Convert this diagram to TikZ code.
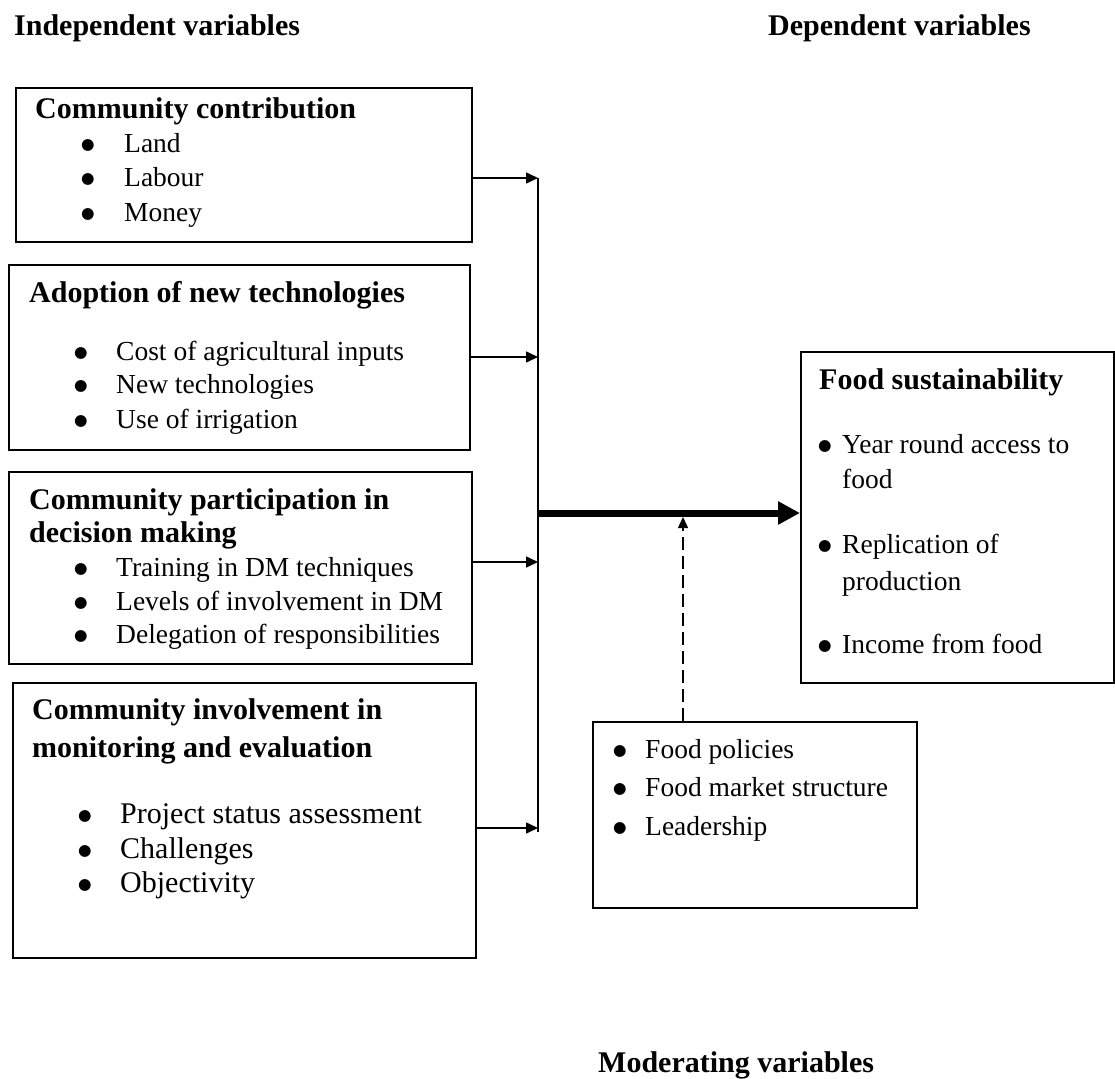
\documentclass[tikz,border=0pt]{standalone}
\usepackage{fontspec}
\setmainfont{Liberation Serif}
\newfontfamily\dotfont{DejaVu Sans}
\usepackage{tikz}
\usetikzlibrary{arrows.meta, positioning}

\newcommand{\itembullet}[1][42pt]{\makebox[#1][l]{\raisebox{3pt}{\dotfont\fontsize{15.5}{15.5}\selectfont ●}}}

\begin{document}
\begin{tikzpicture}[x=1pt, y=-1pt,
    box/.style={draw, line width=1.6pt, inner sep=0pt, anchor=north west},
    title/.style={anchor=base west, inner sep=0pt, font=\fontsize{30}{36}\selectfont\bfseries},
    item/.style={anchor=base west, inner sep=0pt, font=\fontsize{27.5}{33}\selectfont},
    bigitem/.style={anchor=base west, inner sep=0pt, font=\fontsize{30}{36}\selectfont},
    link/.style={line width=1.6pt, -{Triangle[length=12pt, width=11pt]}}]
    \useasboundingbox (0,0) rectangle (1115,1078);

    \node[title] (indep) at (14,36) {Independent variables};
    \node[title] (dep) at (768,36) {Dependent variables};
    \node[title] (moderating) at (598,1072) {Moderating variables};

    \node[box, minimum width=456, minimum height=154] (contrib) at (15,87) {};
    \node[title] (contribhead) at (35,119) {Community contribution};
    \node[item] (land) at (81,153) {\itembullet[43pt]Land};
    \node[item] (labour) at (81,186) {\itembullet[43pt]Labour};
    \node[item] (money) at (81,221) {\itembullet[43pt]Money};

    \node[box, minimum width=461, minimum height=185] (adopt) at (8,264) {};
    \node[title] (adopthead) at (29,302) {Adoption of new technologies};
    \node[item] (cost) at (74,360) {\itembullet Cost of agricultural inputs};
    \node[item] (newtech) at (74,393) {\itembullet New technologies};
    \node[item] (irrig) at (74,428) {\itembullet Use of irrigation};

    \node[box, minimum width=463, minimum height=192] (partic) at (8,471) {};
    \node[title] (partichead) at (29,509) {Community participation in};
    \node[title] (partichead2) at (29,542) {decision making};
    \node[item] (training) at (74,576) {\itembullet Training in DM techniques};
    \node[item] (levels) at (74,610) {\itembullet Levels of involvement in DM};
    \node[item] (deleg) at (74,643) {\itembullet Delegation of responsibilities};

    \node[box, minimum width=463, minimum height=275] (monit) at (12,682) {};
    \node[title] (monithead) at (32,719) {Community involvement in};
    \node[title] (monithead2) at (32,757) {monitoring and evaluation};
    \node[bigitem] (status) at (78,823) {\itembullet Project status assessment};
    \node[bigitem] (challenges) at (78,858) {\itembullet Challenges};
    \node[bigitem] (objectivity) at (78,892) {\itembullet Objectivity};

    \node[box, minimum width=313, minimum height=331] (food) at (800,351) {};
    \node[title] (foodhead) at (819,389) {Food sustainability};
    \node[item] (access) at (818,453) {\itembullet[24pt]Year round access to};
    \node[item] (access2) at (842,488) {food};
    \node[item] (replic) at (818,553) {\itembullet[24pt]Replication of};
    \node[item] (replic2) at (842,590) {production};
    \node[item] (income) at (818,653) {\itembullet[24pt]Income from food};

    \node[box, minimum width=324, minimum height=186] (moder) at (592,721) {};
    \node[item] (policies) at (613,758) {\itembullet[32pt]Food policies};
    \node[item] (market) at (613,796) {\itembullet[32pt]Food market structure};
    \node[item] (leader) at (613,835) {\itembullet[32pt]Leadership};

    \coordinate (a1) at (538,178);
    \coordinate (a2) at (538,357);
    \coordinate (a3) at (538,562);
    \coordinate (a4) at (538,828);
    \coordinate (busbot) at (538,832);
    \coordinate (hub) at (538,513);
    \coordinate (mid) at (683,517);

    \draw[line width=1.6pt] (a1) -- (busbot);
    \draw[link] (contrib.east |- a1) -- (a1);
    \draw[link] (adopt.east |- a2) -- (a2);
    \draw[link] (partic.east |- a3) -- (a3);
    \draw[link] (monit.east |- a4) -- (a4);

    \draw[line width=7pt, -{Triangle[length=22pt, width=22pt]}] (hub) -- (food.west |- hub);
    \draw[line width=1.4pt, dash pattern=on 13pt off 6pt, -{Triangle[length=11pt, width=10pt]}] (moder.north -| mid) -- (mid);

\end{tikzpicture}
\end{document}
